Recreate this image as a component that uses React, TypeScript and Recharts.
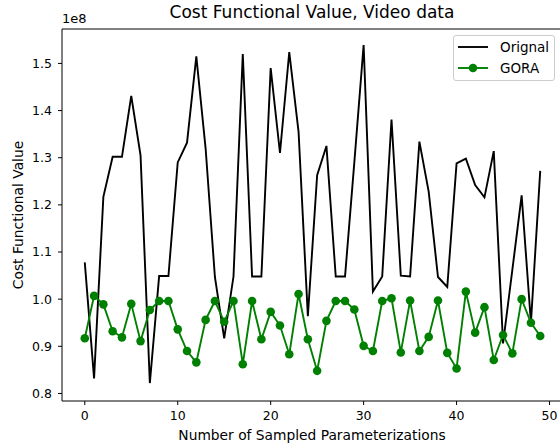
import { LineChart, Line, XAxis, YAxis, ReferenceLine } from 'recharts';

// values are in units of 1e8 (the axis offset text)
const samples = Array.from({ length: 50 }, (_, i) => i);

const orignal = [
    1.078, 0.832, 1.217, 1.302, 1.302, 1.431, 1.305, 0.822, 1.049, 1.049,
    1.290, 1.332, 1.515, 1.320, 1.047, 0.917, 1.048, 1.520, 1.048, 1.048,
    1.490, 1.310, 1.524, 1.355, 0.964, 1.263, 1.325, 1.048, 1.048, 1.290,
    1.539, 1.016, 1.048, 1.381, 1.050, 1.048, 1.334, 1.228, 1.047, 1.026,
    1.288, 1.298, 1.242, 1.216, 1.314, 0.906, 1.062, 1.220, 0.950, 1.272,
];

const gora = [
    0.917, 1.007, 0.989, 0.932, 0.919, 0.990, 0.911, 0.977, 0.996, 0.996,
    0.936, 0.890, 0.866, 0.956, 0.996, 0.952, 0.996, 0.862, 0.996, 0.915,
    0.973, 0.944, 0.883, 1.011, 0.915, 0.848, 0.954, 0.996, 0.996, 0.978,
    0.901, 0.890, 0.996, 1.002, 0.887, 0.997, 0.890, 0.920, 0.997, 0.886,
    0.853, 1.016, 0.929, 0.983, 0.871, 0.924, 0.885, 1.000, 0.950, 0.922,
];

const xTicks = [0, 10, 20, 30, 40, 50];
const yTicks = [0.8, 0.9, 1.0, 1.1, 1.2, 1.3, 1.4, 1.5];

const data = samples.map((x, i) => ({ x, orignal: orignal[i], gora: gora[i] }));

const font = '"DejaVu Sans", sans-serif';
const tickStyle = { fill: '#000', fontSize: 12.5, fontFamily: font };
const Y_MIN = 0.784;
const Y_MAX = 1.573;

const App = () => {
    return (
        <div style={{ position: 'absolute', left: 0, top: 0, width: 560, height: 448, overflow: 'hidden', background: '#fff', fontFamily: font, color: '#000' }}>
            <LineChart width={566} height={448} data={data} margin={{ top: 29, right: 3, left: 0, bottom: 0 }}>
                <XAxis
                    dataKey="x"
                    type="number"
                    domain={[-2.45, 51.45]}
                    ticks={xTicks}
                    allowDataOverflow
                    height={47}
                    tickSize={4}
                    tickMargin={6}
                    tick={tickStyle}
                    stroke="#000"
                    tickLine={{ stroke: '#000' }}
                />
                <YAxis
                    type="number"
                    domain={[Y_MIN, Y_MAX]}
                    ticks={yTicks}
                    allowDataOverflow
                    width={62}
                    tickSize={4}
                    tickMargin={6}
                    tick={tickStyle}
                    tickFormatter={(v: number) => v.toFixed(1)}
                    stroke="#000"
                    tickLine={{ stroke: '#000' }}
                />
                <ReferenceLine y={Y_MAX} stroke="#000" strokeWidth={1} />
                <Line
                    dataKey="orignal"
                    stroke="#000000"
                    strokeWidth={1.9}
                    dot={false}
                    isAnimationActive={false}
                />
                <Line
                    dataKey="gora"
                    stroke="#008000"
                    strokeWidth={1.9}
                    dot={{ r: 4.3, fill: '#008000', stroke: '#008000', strokeWidth: 0 }}
                    isAnimationActive={false}
                />
            </LineChart>

            <div style={{ position: 'absolute', left: 312, top: 2, transform: 'translateX(-50%)', fontSize: 17, whiteSpace: 'nowrap' }}>
                Cost Functional Value, Video data
            </div>
            <div style={{ position: 'absolute', left: 62, top: 11, fontSize: 13 }}>1e8</div>
            <div style={{ position: 'absolute', left: 18, top: 215, transform: 'translate(-50%, -50%) rotate(-90deg)', fontSize: 13.8, whiteSpace: 'nowrap' }}>
                Cost Functional Value
            </div>
            <div style={{ position: 'absolute', left: 312, top: 427, transform: 'translateX(-50%)', fontSize: 13.8, whiteSpace: 'nowrap' }}>
                Number of Sampled Parameterizations
            </div>

            <div style={{ position: 'absolute', left: 453, top: 35, width: 102, height: 46, boxSizing: 'border-box', border: '1px solid #ccc', borderRadius: 3, background: 'rgba(255,255,255,0.8)', fontSize: 13.5 }}>
                <div style={{ position: 'absolute', left: 4, top: 3, display: 'flex', alignItems: 'center' }}>
                    <svg width={30} height={16}><line x1={0} y1={8} x2={30} y2={8} stroke="#000" strokeWidth={1.9} /></svg>
                    <span style={{ marginLeft: 12 }}>Orignal</span>
                </div>
                <div style={{ position: 'absolute', left: 4, top: 24, display: 'flex', alignItems: 'center' }}>
                    <svg width={30} height={16}>
                        <line x1={0} y1={8} x2={30} y2={8} stroke="#008000" strokeWidth={1.9} />
                        <circle cx={15} cy={8} r={4.3} fill="#008000" />
                    </svg>
                    <span style={{ marginLeft: 12 }}>GORA</span>
                </div>
            </div>
        </div>
    );
};

export default App;
